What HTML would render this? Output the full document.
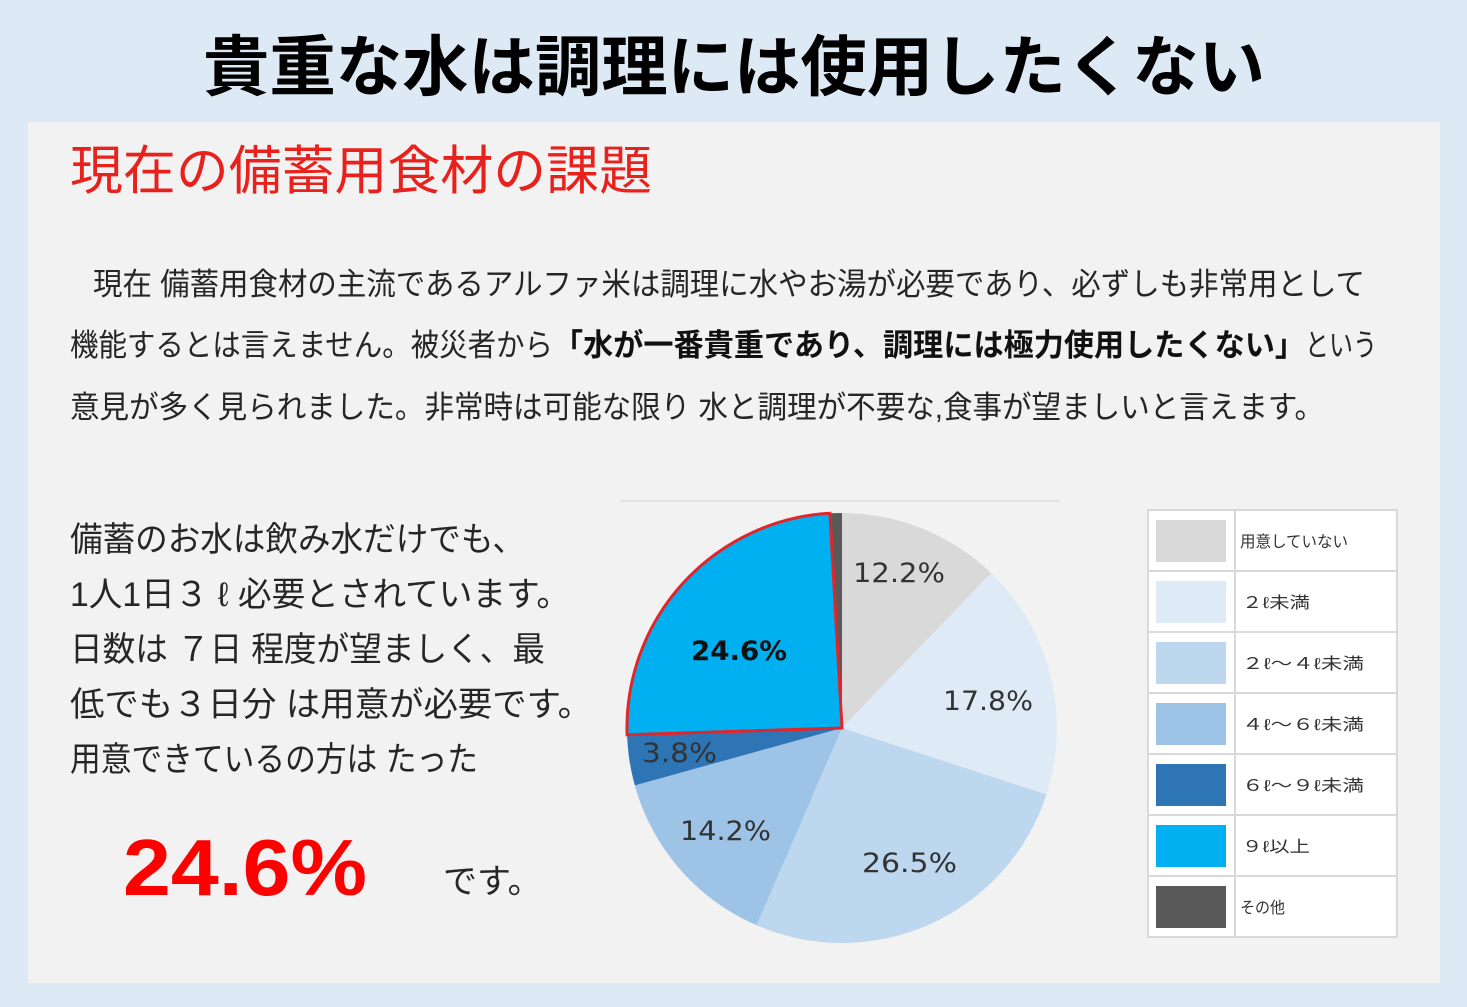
<!DOCTYPE html>
<html><head><meta charset="utf-8">
<style>
html,body{margin:0;padding:0;background:#dde9f5;}
svg{display:block;}
</style></head>
<body>
<svg width="1467" height="1007" viewBox="0 0 1467 1007" xmlns="http://www.w3.org/2000/svg">
<rect x="0" y="0" width="1467" height="1007" fill="#dde9f5"/>
<text x="203" y="90" font-family="'Liberation Sans','Noto Sans CJK JP',sans-serif" font-weight="700" font-size="66" fill="#000" textLength="1062" lengthAdjust="spacingAndGlyphs">貴重な水は調理には使用したくない</text>
<rect x="28" y="122" width="1412" height="861" fill="#f2f2f2"/>
<text x="70" y="189" font-family="'Liberation Sans','Noto Sans CJK JP',sans-serif" font-size="53" fill="#e8211c" textLength="582" lengthAdjust="spacingAndGlyphs">現在の備蓄用食材の課題</text>
<g font-family="'Liberation Sans','Noto Sans CJK JP',sans-serif" font-size="31" fill="#262626">
<text x="93" y="295" textLength="1272" lengthAdjust="spacingAndGlyphs">現在 備蓄用食材の主流であるアルファ米は調理に水やお湯が必要であり、必ずしも非常用として</text>
<text x="70" y="356" textLength="483" lengthAdjust="spacingAndGlyphs">機能するとは言えません。被災者から</text>
<text x="553" y="356" font-weight="700" fill="#111" textLength="752" lengthAdjust="spacingAndGlyphs">「水が一番貴重であり、調理には極力使用したくない」</text>
<text x="1305" y="356" textLength="72" lengthAdjust="spacingAndGlyphs">という</text>
<text x="70" y="418" textLength="1254" lengthAdjust="spacingAndGlyphs">意見が多く見られました。非常時は可能な限り 水と調理が不要な,食事が望ましいと言えます。</text>
</g>
<g font-family="'Liberation Sans','Noto Sans CJK JP',sans-serif" font-size="34" fill="#262626">
<text x="70" y="551" textLength="455" lengthAdjust="spacingAndGlyphs">備蓄のお水は飲み水だけでも、</text>
<text x="70" y="606" textLength="500" lengthAdjust="spacingAndGlyphs">1人1日３ ℓ 必要とされています。</text>
<text x="70" y="661" textLength="475" lengthAdjust="spacingAndGlyphs">日数は ７日 程度が望ましく、最</text>
<text x="70" y="716" textLength="522" lengthAdjust="spacingAndGlyphs">低でも３日分 は用意が必要です。</text>
<text x="70" y="771" textLength="408" lengthAdjust="spacingAndGlyphs">用意できているの方は たった</text>
<text x="443" y="893">です。</text>
</g>
<text x="123" y="895" font-family="'Liberation Sans',sans-serif" font-weight="700" font-size="80" fill="#f00" textLength="244" lengthAdjust="spacingAndGlyphs">24.6%</text>
<line x1="620" y1="501" x2="1060" y2="501" stroke="#dcdcdc" stroke-width="1.5"/>
<g>
<path d="M842,728 L842,513 A215,215 0 0 1 991.1,573.1 Z" fill="#d9d9d9"/>
<path d="M842,728 L991.1,573.1 A215,215 0 0 1 1046.5,794.4 Z" fill="#deebf7"/>
<path d="M842,728 L1046.5,794.4 A215,215 0 0 1 756.6,925.3 Z" fill="#bdd7ee"/>
<path d="M842,728 L756.6,925.3 A215,215 0 0 1 634.8,785.4 Z" fill="#9dc3e6"/>
<path d="M842,728 L634.8,785.4 A215,215 0 0 1 627.1,734.8 Z" fill="#2e75b6"/>
<path d="M842,728 L829.9,513.3 A215,215 0 0 1 842,513 Z" fill="#595959"/>
<path d="M842,728 L627.1,734.8 A215,215 0 0 1 829.9,513.3 Z" fill="#00b0f0" stroke="#e0262b" stroke-width="3" stroke-linejoin="miter"/>
</g>
<g font-family="'DejaVu Sans',sans-serif" font-size="27" fill="#333">
<text x="853" y="582" textLength="92" lengthAdjust="spacingAndGlyphs">12.2%</text>
<text x="943" y="710" textLength="90" lengthAdjust="spacingAndGlyphs">17.8%</text>
<text x="862" y="872" textLength="95" lengthAdjust="spacingAndGlyphs">26.5%</text>
<text x="680" y="840" textLength="91" lengthAdjust="spacingAndGlyphs">14.2%</text>
<text x="642" y="762" textLength="75" lengthAdjust="spacingAndGlyphs">3.8%</text>
<text x="691" y="660" font-weight="700" fill="#111" textLength="96" lengthAdjust="spacingAndGlyphs">24.6%</text>
</g>
<g>
<rect x="1148" y="510" width="249" height="427" fill="#fff" stroke="#d9d9d9" stroke-width="2"/>
<line x1="1235" y1="510" x2="1235" y2="937" stroke="#d9d9d9" stroke-width="2"/>
<line x1="1148" y1="571" x2="1397" y2="571" stroke="#d9d9d9" stroke-width="2"/>
<line x1="1148" y1="632" x2="1397" y2="632" stroke="#d9d9d9" stroke-width="2"/>
<line x1="1148" y1="693" x2="1397" y2="693" stroke="#d9d9d9" stroke-width="2"/>
<line x1="1148" y1="754" x2="1397" y2="754" stroke="#d9d9d9" stroke-width="2"/>
<line x1="1148" y1="815" x2="1397" y2="815" stroke="#d9d9d9" stroke-width="2"/>
<line x1="1148" y1="876" x2="1397" y2="876" stroke="#d9d9d9" stroke-width="2"/>
<rect x="1156" y="520" width="70" height="42" fill="#d9d9d9"/>
<rect x="1156" y="581" width="70" height="42" fill="#deebf7"/>
<rect x="1156" y="642" width="70" height="42" fill="#bdd7ee"/>
<rect x="1156" y="703" width="70" height="42" fill="#9dc3e6"/>
<rect x="1156" y="764" width="70" height="42" fill="#2e75b6"/>
<rect x="1156" y="825" width="70" height="42" fill="#00b0f0"/>
<rect x="1156" y="886" width="70" height="42" fill="#595959"/>
<g font-family="'Liberation Sans','Noto Sans CJK JP',sans-serif" font-size="16" fill="#333">
<text x="1240" y="547" textLength="108" lengthAdjust="spacingAndGlyphs">用意していない</text>
<text x="1242" y="608" textLength="68" lengthAdjust="spacingAndGlyphs">２ℓ未満</text>
<text x="1242" y="669" textLength="122" lengthAdjust="spacingAndGlyphs">２ℓ～４ℓ未満</text>
<text x="1242" y="730" textLength="122" lengthAdjust="spacingAndGlyphs">４ℓ～６ℓ未満</text>
<text x="1242" y="791" textLength="122" lengthAdjust="spacingAndGlyphs">６ℓ～９ℓ未満</text>
<text x="1242" y="852" textLength="68" lengthAdjust="spacingAndGlyphs">９ℓ以上</text>
<text x="1240" y="913" textLength="45" lengthAdjust="spacingAndGlyphs">その他</text>
</g>
</g>
</svg>
</body></html>
